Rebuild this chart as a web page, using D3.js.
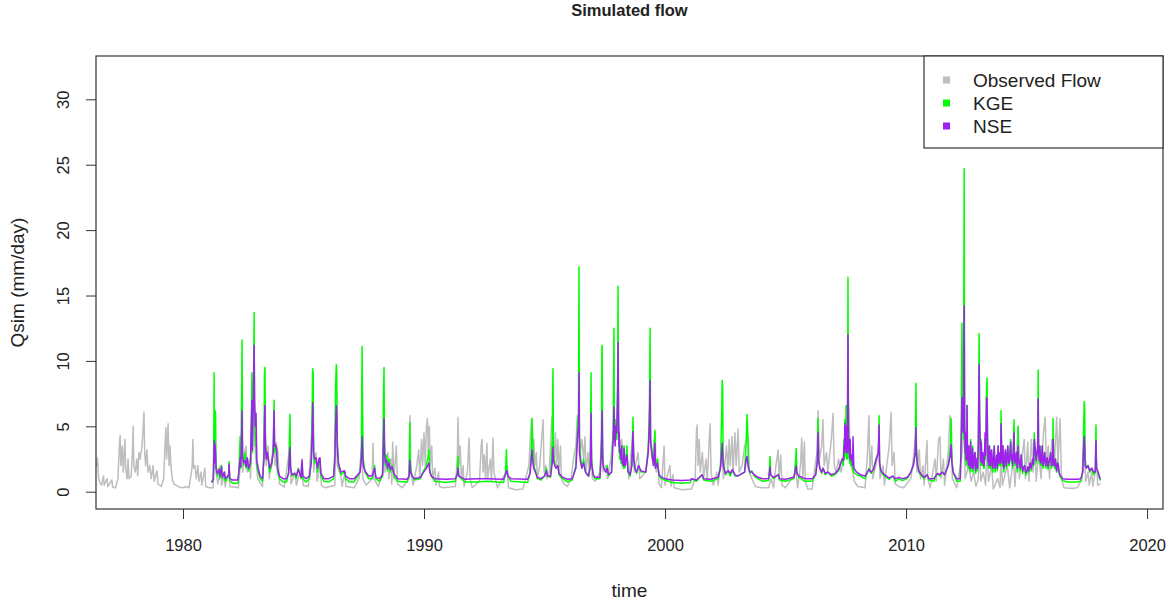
<!DOCTYPE html>
<html><head><meta charset="utf-8">
<script src="https://cdn.jsdelivr.net/npm/d3@7"></script>
<style>
body{margin:0;background:#fff}
text{font-family:"Liberation Sans",Arial,sans-serif;fill:#222}
</style>
</head><body>
<svg id="chart" width="1168" height="602"></svg>
<script>
// ---------- DATA ----------
const xTicks = [1980, 1990, 2000, 2010, 2020];
const yTicks = [0, 5, 10, 15, 20, 25, 30];
const legendLabels = ["Observed Flow", "KGE", "NSE"];
const chartTitle = "Simulated flow";
const xTitle = "time";
const yTitle = "Qsim (mm/day)";

// Observed flow (decimal year, mm/day)
const obsDates = [
  1976.42,1976.45,1976.50,1976.55,1976.62,1976.70,1976.73,1976.85,1976.88,
  1977.05,1977.08,1977.20,1977.30,1977.36,1977.39,1977.42,1977.48,1977.52,1977.59,1977.62,1977.68,1977.72,1977.76,1977.85,1977.90,1977.93,1977.96,
  1978.02,1978.08,1978.12,1978.17,1978.22,1978.30,1978.35,1978.38,1978.41,1978.45,1978.50,1978.55,1978.62,1978.68,1978.76,1978.80,1978.92,1978.96,
  1979.10,1979.20,1979.25,1979.29,1979.32,1979.36,1979.38,1979.42,1979.46,1979.50,1979.55,1979.62,1979.71,1979.85,
  1980.00,1980.15,1980.25,1980.35,1980.38,1980.41,1980.44,1980.50,1980.55,1980.62,1980.66,1980.75,1980.78,1980.91,1980.94,
  1981.10,1981.25,1981.29,1981.32,1981.45,1981.55,1981.60,1981.70,1981.75,1981.90,1981.95,
  1982.30,1982.40,1982.45,1982.48,1982.55,1982.62,1982.66,1982.75,1982.80,1982.86,1982.95,
  1983.00,1983.10,1983.30,1983.40,1983.45,1983.53,1983.58,1983.78,1983.82,1983.86,1983.94,
  1984.00,1984.20,1984.44,1984.48,1984.65,1984.70,1984.90,1984.94,1984.98,
  1985.20,1985.38,1985.42,1985.52,1985.56,1985.70,1985.74,1985.90,
  1986.30,1986.36,1986.40,1986.55,1986.60,1986.72,1986.76,
  1987.10,1987.30,1987.43,1987.46,1987.60,1987.85,1987.88,1987.92,
  1988.10,1988.30,1988.34,1988.38,1988.50,1988.54,1988.62,1988.66,1988.70,1988.75,1988.85,1988.90,
  1989.10,1989.38,1989.42,1989.45,1989.55,1989.70,1989.78,1989.82,1989.90,1989.94,
  1990.00,1990.05,1990.10,1990.14,1990.18,1990.22,1990.26,1990.32,1990.36,1990.45,1990.50,1990.60,1990.64,1990.80,
  1991.30,1991.38,1991.41,1991.45,1991.50,1991.55,1991.62,1991.66,1991.80,1991.87,1991.91,
  1992.00,1992.30,1992.37,1992.41,1992.45,1992.50,1992.55,1992.61,1992.64,1992.75,1992.80,1992.86,1992.90,1992.96,
  1993.05,1993.40,1993.44,1993.50,1993.80,
  1994.10,1994.35,1994.42,1994.46,1994.50,1994.55,1994.60,1994.66,1994.70,1994.80,1994.94,1994.98,
  1995.05,1995.10,1995.20,1995.30,1995.35,1995.40,1995.45,1995.50,1995.55,1995.60,1995.66,1995.70,1995.80,1995.95,
  1996.10,1996.20,1996.30,1996.36,1996.43,1996.48,1996.55,1996.62,1996.68,1996.72,1996.80,1996.86,1996.93,1996.98,
  1997.10,1997.30,1997.39,1997.43,1997.55,1997.62,1997.75,1997.88,1997.95,
  1998.05,1998.12,1998.20,1998.30,1998.42,1998.50,1998.67,1998.72,1998.88,1998.95,
  1999.20,1999.38,1999.45,1999.59,1999.63,1999.70,1999.75,1999.85,1999.96,
  2000.00,2000.20,2000.25,2000.33,2000.38,2000.70,
  2001.10,2001.25,2001.30,2001.33,2001.37,2001.42,2001.46,2001.55,2001.60,2001.70,2001.75,2001.82,2001.87,2001.91,
  2002.00,2002.15,2002.20,2002.37,2002.42,2002.55,2002.60,2002.66,2002.70,2002.78,2002.82,2002.90,2002.95,
  2003.03,2003.08,2003.20,2003.30,2003.40,2003.45,2003.50,2003.60,2003.75,
  2004.00,2004.30,2004.40,2004.50,2004.60,2004.69,2004.73,2004.80,2004.85,
  2005.00,2005.44,2005.50,2005.62,2005.67,2005.72,2005.78,2005.82,2005.92,
  2006.10,2006.30,2006.35,2006.40,2006.50,2006.55,2006.60,2006.70,2006.75,2006.90,2006.97,
  2007.02,2007.10,2007.20,2007.30,2007.45,2007.55,2007.62,2007.68,2007.75,2007.85,
  2008.00,2008.30,2008.40,2008.46,2008.50,2008.58,2008.62,2008.80,2008.88,2008.92,
  2009.05,2009.10,2009.30,2009.38,2009.42,2009.50,2009.55,2009.70,2009.90,
  2010.20,2010.30,2010.41,2010.45,2010.55,2010.60,2010.70,2010.75,2010.87,2010.90,
  2011.00,2011.20,2011.25,2011.35,2011.41,2011.45,2011.55,2011.60,2011.75,2011.82,2011.87,2011.92,
  2012.10,2012.30,2012.41,2012.45,2012.60,2012.70,2012.80,2012.90,
  2013.00,2013.03,2013.10,2013.20,2013.30,2013.36,2013.42,2013.55,2013.62,2013.80,2013.90,2013.94,
  2014.00,2014.20,2014.30,2014.45,2014.52,2014.65,2014.70,2014.80,2014.90,2014.95,
  2015.05,2015.10,2015.20,2015.27,2015.35,2015.40,2015.50,2015.60,2015.70,2015.77,2015.82,2015.90,2015.95,
  2016.05,2016.15,2016.25,2016.30,2016.39,2016.45,2016.55,2016.90,
  2017.10,2017.30,2017.35,2017.39,2017.45,2017.55,2017.60,2017.70,2017.75,2017.85,2017.90,2017.95,
  2018.05
];
const obsFlow = [
  2.0,2.6,1.0,0.7,0.5,1.2,0.5,1.0,0.4,
  0.9,0.35,0.3,1.0,3.5,4.3,2.0,3.5,1.5,4.0,1.8,1.0,2.5,1.0,1.2,3.0,5.0,2.0,
  1.5,2.5,1.2,3.0,2.5,3.5,5.0,6.1,3.0,2.0,3.2,1.5,2.0,1.0,2.0,0.8,1.6,0.6,
  0.4,1.0,3.5,4.9,2.5,4.0,5.2,2.0,3.5,2.0,1.0,0.6,0.5,0.35,
  0.3,0.4,0.3,1.5,2.0,4.0,1.8,2.0,1.0,2.0,0.8,1.5,0.5,1.8,0.4,
  0.3,0.3,4.0,2.0,0.6,2.0,0.5,1.2,0.4,1.5,0.4,
  0.3,2.5,5.0,1.5,3.0,3.5,1.5,2.5,1.0,4.5,7.0,
  3.0,1.0,0.4,5.5,2.0,3.5,1.0,4.0,2.0,3.8,3.0,
  0.6,0.35,3.5,0.6,1.5,0.5,1.8,2.5,0.5,
  0.4,5.5,1.5,3.0,0.8,2.0,0.5,0.3,
  0.5,6.0,2.0,1.2,0.4,1.5,0.4,
  0.3,1.0,4.0,1.0,0.5,1.0,3.7,1.0,
  0.4,1.5,4.5,1.5,3.0,1.0,2.5,0.6,3.8,1.0,3.5,0.6,
  0.3,1.0,5.8,1.5,0.5,2.0,3.2,1.0,4.0,2.0,
  4.5,2.0,5.0,5.6,3.0,5.0,2.0,3.5,1.0,1.8,0.5,1.5,0.4,0.3,
  0.4,2.5,5.7,2.0,3.5,1.0,2.0,0.4,1.5,4.1,1.0,
  0.3,0.8,3.5,4.0,1.5,2.8,1.0,3.7,1.0,2.5,0.8,4.1,1.5,1.0,
  0.3,1.5,2.0,0.3,0.15,
  0.2,2.0,4.5,5.6,3.0,4.0,2.0,3.0,1.0,2.0,5.5,1.5,
  2.0,1.0,1.5,5.7,4.0,2.5,4.5,2.0,4.0,1.5,3.5,1.0,0.6,0.4,
  1.0,2.5,3.5,5.8,5.0,3.0,4.0,2.5,4.2,1.5,3.0,1.2,4.0,1.0,
  0.8,1.5,5.0,1.5,2.0,1.0,2.5,5.0,4.0,
  5.5,3.5,4.0,2.5,3.0,1.0,4.5,1.5,3.0,1.0,
  1.5,5.0,2.5,4.5,1.5,2.5,0.6,0.3,3.5,
  0.5,2.0,0.4,1.3,0.3,0.15,
  0.2,1.0,4.5,5.1,2.0,4.0,1.5,3.0,1.0,2.5,0.8,3.5,5.2,1.5,
  0.5,1.5,0.5,3.0,1.0,3.5,1.5,4.0,2.0,4.2,1.5,4.5,2.0,
  4.8,1.5,2.0,3.5,4.0,4.2,1.5,1.0,0.4,
  0.3,0.3,1.0,0.3,2.0,3.2,1.0,2.8,0.5,
  0.3,1.5,0.3,2.0,4.1,1.0,3.8,0.8,0.2,
  0.2,3.0,6.2,2.5,3.5,5.5,2.0,3.0,1.5,4.0,6.0,
  2.0,1.5,2.5,1.5,3.0,5.0,6.5,3.0,2.0,0.8,
  0.4,0.3,3.0,5.8,1.5,3.5,1.0,2.5,4.0,1.0,
  2.0,0.5,3.5,6.1,2.0,3.0,0.6,0.4,0.3,
  1.0,2.5,4.5,1.5,3.2,1.0,2.0,0.5,3.9,1.0,
  0.3,2.5,0.8,4.0,4.2,1.0,2.5,0.5,3.0,5.8,4.0,1.0,
  0.3,2.5,5.0,1.0,2.0,0.8,1.5,0.4,
  1.0,5.0,0.8,1.5,0.5,3.5,0.8,2.0,0.2,1.0,0.3,3.0,
  0.5,2.0,0.3,2.5,0.4,5.0,1.0,2.5,4.0,1.0,
  3.8,0.8,4.0,1.5,3.5,0.8,3.0,1.0,4.5,5.7,2.0,3.5,1.0,
  4.0,2.0,5.7,2.0,5.6,1.0,0.3,0.25,
  0.3,1.0,3.0,4.0,0.8,1.5,0.5,1.5,0.4,1.5,2.5,0.5,
  0.6
];

// Simulated flows (shared decimal-year dates)
const simDates = [
  1981.20,1981.26,1981.28,1981.29,1981.30,1981.33,1981.35,1981.37,1981.42,1981.50,1981.53,1981.60,1981.63,1981.72,1981.75,1981.90,1981.91,1981.94,
  1982.05,1982.28,1982.33,1982.37,1982.40,1982.44,1982.45,1982.47,1982.52,1982.58,1982.62,1982.66,1982.72,1982.80,1982.84,1982.86,1982.88,1982.93,1982.95,1982.97,
  1983.00,1983.03,1983.06,1983.12,1983.20,1983.30,1983.36,1983.38,1983.40,1983.42,1983.46,1983.50,1983.53,1983.60,1983.68,1983.74,1983.78,1983.80,1983.84,1983.88,1983.92,
  1984.00,1984.15,1984.30,1984.38,1984.42,1984.44,1984.46,1984.52,1984.62,1984.70,1984.78,1984.90,1984.94,1984.97,
  1985.10,1985.25,1985.32,1985.36,1985.38,1985.40,1985.42,1985.46,1985.52,1985.58,1985.64,1985.68,1985.72,1985.85,
  1986.05,1986.25,1986.30,1986.33,1986.36,1986.38,1986.40,1986.45,1986.55,1986.70,1986.75,1986.90,
  1987.10,1987.25,1987.35,1987.40,1987.43,1987.45,1987.48,1987.55,1987.70,1987.85,1987.95,
  1988.00,1988.15,1988.28,1988.32,1988.34,1988.36,1988.40,1988.45,1988.48,1988.55,1988.60,1988.68,1988.75,1988.90,
  1989.30,1989.38,1989.41,1989.43,1989.50,1989.60,1989.85,1989.95,
  1990.10,1990.15,1990.20,1990.24,1990.30,1990.45,1990.90,
  1991.30,1991.38,1991.41,1991.44,1991.55,1991.70,
  1992.20,1992.60,
  1993.30,1993.38,1993.42,1993.44,1993.48,1993.60,
  1994.30,1994.40,1994.45,1994.48,1994.50,1994.55,1994.62,1994.70,1994.85,
  1995.00,1995.08,1995.12,1995.25,1995.32,1995.35,1995.37,1995.42,1995.48,1995.55,1995.60,1995.75,1995.95,
  1996.15,1996.30,1996.38,1996.41,1996.43,1996.45,1996.50,1996.55,1996.62,1996.70,1996.82,1996.90,1996.93,1996.95,
  1997.02,1997.10,1997.30,1997.36,1997.38,1997.39,1997.41,1997.45,1997.55,1997.60,1997.65,1997.78,1997.85,1997.88,1997.90,1997.93,1997.96,
  1998.00,1998.03,1998.05,1998.07,1998.09,1998.10,1998.12,1998.15,1998.17,1998.20,1998.22,1998.25,1998.27,1998.30,1998.33,1998.35,1998.38,1998.42,1998.46,1998.55,1998.62,1998.67,1998.70,1998.75,1998.82,1998.90,
  1999.00,1999.20,1999.30,1999.35,1999.38,1999.40,1999.45,1999.52,1999.58,1999.60,1999.68,1999.75,1999.85,
  2000.00,2000.30,2000.70,
  2001.05,2001.10,2001.30,2001.54,2001.60,2001.90,
  2002.20,2002.30,2002.35,2002.37,2002.39,2002.41,2002.50,2002.62,2002.70,2002.80,2002.90,
  2003.00,2003.30,2003.37,2003.40,2003.43,2003.46,2003.52,2003.60,2003.70,2003.85,
  2004.05,2004.30,2004.36,2004.38,2004.50,2004.70,2004.75,
  2005.00,2005.35,2005.42,2005.44,2005.47,2005.55,2005.80,
  2006.10,2006.25,2006.32,2006.35,2006.37,2006.42,2006.50,2006.55,2006.65,2006.75,2006.90,
  2007.05,2007.20,2007.35,2007.40,2007.42,2007.44,2007.46,2007.48,2007.50,2007.51,2007.53,2007.54,2007.56,2007.57,2007.59,2007.61,2007.63,2007.64,2007.66,2007.68,2007.70,2007.72,2007.75,2007.78,2007.80,2007.83,2007.95,
  2008.10,2008.30,2008.40,2008.46,2008.55,2008.65,2008.75,2008.85,2008.88,2008.90,2008.96,
  2009.10,2009.30,2009.45,2009.55,2009.70,2009.85,
  2010.05,2010.20,2010.30,2010.38,2010.41,2010.43,2010.48,2010.55,2010.65,2010.75,2010.87,2010.95,
  2011.15,2011.30,2011.40,2011.50,2011.60,2011.75,2011.84,2011.87,2011.90,2011.95,
  2012.10,2012.25,2012.29,2012.32,2012.34,2012.38,2012.41,2012.43,2012.45,2012.47,2012.49,2012.50,2012.52,2012.53,2012.55,2012.56,2012.58,2012.60,2012.62,2012.64,2012.66,2012.68,2012.70,2012.72,2012.74,2012.76,2012.78,2012.80,2012.83,2012.86,2012.88,2012.90,2012.93,2012.95,2012.97,
  2013.00,2013.03,2013.05,2013.08,2013.10,2013.12,2013.14,2013.16,2013.18,2013.20,2013.22,2013.24,2013.26,2013.28,2013.30,2013.32,2013.34,2013.36,2013.38,2013.40,2013.42,2013.44,2013.46,2013.48,2013.50,2013.52,2013.55,2013.58,2013.60,2013.63,2013.66,2013.68,2013.70,2013.73,2013.76,2013.79,2013.82,2013.84,2013.86,2013.88,2013.90,2013.92,2013.94,2013.97,
  2014.00,2014.02,2014.04,2014.06,2014.09,2014.12,2014.14,2014.16,2014.19,2014.22,2014.25,2014.28,2014.31,2014.34,2014.37,2014.40,2014.42,2014.45,2014.48,2014.50,2014.52,2014.55,2014.58,2014.60,2014.62,2014.65,2014.67,2014.70,2014.74,2014.78,2014.81,2014.84,2014.88,2014.92,2014.96,
  2015.00,2015.05,2015.10,2015.15,2015.20,2015.25,2015.29,2015.32,2015.36,2015.40,2015.43,2015.46,2015.48,2015.50,2015.53,2015.55,2015.58,2015.60,2015.63,2015.65,2015.68,2015.70,2015.73,2015.75,2015.78,2015.80,2015.83,2015.86,2015.89,2015.92,2015.96,
  2016.00,2016.03,2016.05,2016.08,2016.10,2016.13,2016.16,2016.20,2016.23,2016.25,2016.29,2016.32,2016.35,2016.38,2016.50,2016.70,
  2017.10,2017.25,2017.33,2017.37,2017.39,2017.41,2017.43,2017.48,2017.55,2017.62,2017.70,2017.78,2017.85,2017.88,2017.90,2017.95,
  2018.00,2018.05
];
const kgeFlow = [
  0.75,0.9,5.0,9.1,3.5,6.2,6.0,2.2,1.2,1.8,1.0,2.0,1.0,1.5,0.8,1.2,2.3,0.9,
  0.65,0.65,2.0,4.2,1.8,9.0,11.6,3.0,2.0,3.0,1.8,2.5,1.6,2.0,6.0,9.1,3.0,9.0,13.7,6.0,
  3.5,4.5,2.0,1.5,1.0,0.8,3.0,9.0,9.5,4.0,2.5,3.0,2.5,1.5,2.0,3.0,7.0,3.0,3.5,3.2,1.5,
  1.0,0.75,0.75,1.5,4.5,5.9,2.0,1.2,1.4,1.0,1.8,1.0,2.2,1.0,
  0.75,1.0,2.5,6.5,9.4,9.0,3.0,2.2,2.5,1.5,2.3,2.5,1.2,0.8,
  0.75,1.0,3.0,8.0,9.7,9.0,4.0,2.0,1.3,1.5,1.0,0.75,
  0.75,1.2,1.5,3.0,11.1,6.2,2.5,1.5,1.0,1.0,2.0,
  1.0,0.8,1.2,7.5,9.5,4.0,2.0,2.8,1.6,2.5,1.5,2.0,1.2,0.8,
  0.75,1.2,5.3,2.2,1.2,0.9,1.0,1.5,
  2.0,2.5,3.2,1.6,1.2,0.8,0.7,
  0.8,1.5,2.7,1.2,1.0,0.75,
  0.75,0.8,
  0.7,1.5,3.2,2.0,1.2,0.8,
  0.7,1.5,3.0,5.6,4.5,2.0,1.6,1.0,0.9,
  1.2,1.8,1.2,1.1,4.0,9.4,3.0,2.2,1.8,2.0,1.3,1.0,0.75,
  0.9,2.0,5.5,6.0,17.2,4.0,2.5,1.8,2.5,1.5,1.2,2.0,9.1,2.5,
  1.2,1.0,1.0,4.0,11.0,11.2,3.0,1.8,1.5,2.0,1.2,1.5,5.0,12.5,5.0,4.0,5.5,
  4.0,8.0,15.7,5.0,3.0,4.0,2.5,3.0,2.2,3.5,2.0,2.5,1.8,3.5,1.8,2.0,2.5,3.5,1.5,1.2,2.0,5.7,2.5,1.8,1.4,2.0,
  1.5,1.5,3.0,6.5,12.5,4.0,3.0,2.0,4.7,1.8,2.5,1.2,1.0,
  0.9,0.7,0.65,
  0.7,1.0,0.8,1.3,0.9,0.8,
  1.0,2.0,6.0,8.5,8.0,2.5,1.3,1.6,1.2,1.6,1.2,
  1.2,1.5,4.0,5.9,4.5,2.0,1.4,1.6,1.2,1.0,
  0.8,0.85,2.7,1.3,1.0,1.3,0.9,
  0.8,1.0,2.5,3.3,1.5,1.1,0.8,
  0.8,1.3,2.5,5.6,2.5,1.8,1.4,1.8,1.3,1.5,1.2,
  1.3,1.6,2.5,2.0,4.0,2.5,5.5,2.8,3.0,6.6,2.5,3.5,2.5,5.0,16.4,5.0,2.5,3.0,2.2,4.0,2.0,2.0,2.5,1.6,3.5,1.5,1.3,
  1.2,1.0,1.5,1.8,1.4,1.7,2.5,3.0,5.8,2.2,1.5,
  1.2,0.95,1.2,0.8,1.0,0.85,
  1.0,1.5,2.0,3.0,8.3,3.5,2.0,1.4,1.2,1.0,1.3,0.9,
  0.8,1.4,1.2,1.5,1.3,2.0,3.5,5.6,2.5,1.5,
  0.8,0.8,5.0,12.9,6.0,4.0,24.7,5.5,2.5,3.0,2.0,4.5,2.5,6.6,2.2,3.0,1.8,3.5,2.0,2.0,1.5,4.0,1.8,2.5,1.6,3.5,1.5,1.8,2.8,3.0,1.4,1.5,2.2,2.5,1.6,
  4.0,12.1,6.0,3.0,2.0,4.0,2.2,2.0,2.8,2.5,1.8,1.8,3.0,4.0,2.5,5.0,8.0,8.7,4.0,2.0,2.5,1.8,3.5,2.0,1.8,2.8,3.0,1.7,1.5,2.5,3.5,1.8,1.5,2.2,2.5,1.6,3.5,2.0,2.0,2.8,3.0,2.0,6.2,2.5,
  2.0,3.5,1.8,1.5,2.5,3.0,2.0,1.8,2.6,3.5,2.0,2.0,2.8,4.0,2.2,2.5,1.8,3.5,5.5,2.2,2.0,2.6,3.0,1.8,1.5,5.0,2.5,2.0,1.6,2.8,1.8,1.4,1.8,2.0,1.3,
  1.3,1.8,1.5,2.2,1.6,2.5,2.0,4.5,3.0,2.2,2.8,3.5,9.3,3.0,2.2,3.5,2.0,2.0,2.8,3.5,1.8,2.0,2.6,3.0,2.0,1.8,2.4,2.5,1.7,2.0,2.4,
  3.0,1.8,2.0,2.5,5.6,2.0,1.8,2.5,1.6,1.5,2.2,2.0,1.4,1.2,0.85,0.75,
  0.75,0.8,1.5,5.0,6.9,6.5,2.5,1.8,2.0,1.5,1.8,1.3,1.5,5.1,1.8,1.5,
  1.2,0.9
];
const nseFlow = [
  0.75,1.0,2.8,3.9,2.2,3.6,3.0,1.8,1.4,1.7,1.2,1.9,1.1,1.5,1.0,1.3,2.1,1.0,
  0.9,0.9,1.8,2.6,1.9,5.0,6.2,2.6,2.2,2.4,1.9,2.6,1.8,2.2,5.5,7.0,3.2,8.5,11.2,7.0,
  5.0,6.0,2.4,1.8,1.2,1.0,2.5,5.5,6.6,3.5,2.5,3.0,2.6,1.8,2.2,3.0,6.2,3.5,3.6,3.3,1.8,
  1.2,1.0,1.0,1.4,2.8,3.4,1.8,1.3,1.4,1.2,1.7,1.1,2.4,1.2,
  1.0,1.2,2.2,4.5,6.8,5.0,3.0,2.5,2.6,1.8,2.5,2.6,1.4,1.0,
  1.0,1.2,2.5,5.0,6.6,6.0,3.5,2.2,1.5,1.6,1.2,1.0,
  1.0,1.3,1.5,2.5,4.2,3.0,2.0,1.6,1.2,1.2,1.8,
  1.1,1.0,1.3,4.0,5.6,3.0,2.2,2.4,1.8,2.2,1.7,1.9,1.4,1.0,
  0.95,1.2,2.4,1.6,1.2,1.0,1.1,1.4,
  1.8,2.0,2.2,1.5,1.2,1.0,0.95,
  1.0,1.3,1.8,1.2,1.1,0.95,
  1.0,1.0,
  0.95,1.3,1.6,1.6,1.2,1.0,
  0.95,1.4,2.5,3.2,2.5,1.8,1.5,1.1,1.0,
  1.2,1.6,1.2,1.2,2.2,3.4,2.4,2.0,1.8,2.0,1.4,1.1,0.95,
  1.0,1.8,4.5,5.0,9.1,3.0,2.2,1.8,2.2,1.5,1.2,1.9,6.0,2.2,
  1.3,1.1,1.1,3.0,5.5,6.2,2.6,1.8,1.5,1.8,1.3,1.5,4.0,6.5,4.5,3.5,5.0,
  4.5,7.5,11.4,6.0,3.5,4.5,3.0,3.2,2.5,3.5,2.2,2.5,2.0,3.3,2.0,2.0,2.5,2.8,1.6,1.3,2.0,4.6,2.5,1.8,1.5,2.0,
  1.6,1.5,3.0,5.0,8.5,3.8,3.0,2.0,3.7,1.8,2.2,1.3,1.1,
  1.0,0.9,0.85,
  0.9,1.0,0.9,1.3,1.0,0.95,
  1.1,1.8,3.0,3.7,3.0,2.0,1.4,1.6,1.4,1.7,1.3,
  1.2,1.5,2.5,2.7,2.2,1.8,1.5,1.5,1.3,1.1,
  1.0,1.0,1.9,1.3,1.1,1.3,1.0,
  0.95,1.1,1.8,2.0,1.4,1.2,1.0,
  1.0,1.3,2.3,4.5,2.5,1.8,1.5,1.8,1.4,1.5,1.3,
  1.4,1.7,2.5,2.4,3.5,3.0,5.2,3.2,3.5,5.0,3.0,3.5,3.0,5.5,12.0,4.5,3.0,3.5,2.6,4.0,2.4,2.5,2.8,2.0,4.2,1.8,1.5,
  1.3,1.2,1.5,1.7,1.5,1.7,2.4,3.0,5.1,2.2,1.6,
  1.3,1.05,1.2,1.0,1.1,1.0,
  1.1,1.5,2.0,3.0,4.9,2.8,2.0,1.5,1.3,1.1,1.3,1.0,
  1.0,1.4,1.3,1.5,1.3,2.0,2.8,3.6,2.3,1.5,
  1.0,1.0,4.0,7.2,5.0,4.5,14.2,5.5,3.0,3.5,2.4,4.5,2.8,6.6,2.5,3.3,2.0,3.5,2.2,2.2,1.8,3.8,2.0,2.6,1.8,3.3,1.8,2.0,2.8,3.0,1.6,1.8,2.3,2.6,1.8,
  4.0,9.7,6.0,3.0,2.3,3.8,2.4,2.2,3.0,2.8,2.0,2.0,3.2,4.5,2.8,4.8,7.2,7.0,4.0,2.3,2.8,2.0,3.5,2.2,2.0,3.0,3.2,1.9,1.8,2.6,3.5,2.0,1.8,2.4,2.8,1.8,3.5,2.2,2.2,2.8,3.0,2.2,5.2,2.8,
  2.2,3.5,2.0,1.8,2.6,3.2,2.2,2.0,2.8,3.5,2.2,2.2,3.0,3.8,2.4,2.8,2.0,3.2,4.5,2.4,2.2,2.7,3.0,2.0,1.8,3.5,2.6,2.2,1.8,2.8,2.0,1.6,1.9,2.0,1.5,
  1.5,1.9,1.6,2.2,1.8,2.5,2.1,4.0,3.2,2.4,2.9,3.5,7.1,3.0,2.4,3.5,2.2,2.2,2.9,3.5,2.0,2.2,2.7,3.0,2.2,2.0,2.5,2.6,1.9,2.2,2.5,
  3.0,2.0,2.0,2.6,4.0,2.0,2.0,2.5,1.8,1.6,2.2,2.0,1.5,1.3,1.0,0.95,
  0.95,1.0,1.5,3.5,4.2,3.5,2.0,1.8,2.0,1.6,1.8,1.5,1.5,3.9,1.8,1.6,
  1.3,1.0
];

const seriesColors = ["#BEBEBE", "#00FF00", "#A020F0"];

// ---------- CHART ----------
const svg = d3.select("#chart");
const plot = {left: 96, top: 56, right: 1163, bottom: 509};

const x = d3.scaleLinear().domain([1976.39, 2020.66]).range([plot.left, plot.right]);
const y = d3.scaleLinear().domain([-1.32, 33.31]).range([plot.bottom, plot.top]);

svg.append("rect").attr("width", 1168).attr("height", 602).attr("fill", "#fff");

svg.append("defs").append("clipPath").attr("id", "clip")
  .append("rect").attr("x", plot.left).attr("y", plot.top)
  .attr("width", plot.right - plot.left).attr("height", plot.bottom - plot.top);

const line = d3.line().x(d => x(d[0])).y(d => y(d[1]));
const obsData = obsDates.map((t, i) => [t, obsFlow[i]]);
const kgeData = simDates.map((t, i) => [t, kgeFlow[i]]);
const nseData = simDates.map((t, i) => [t, nseFlow[i]]);

const g = svg.append("g").attr("clip-path", "url(#clip)");
[[obsData, seriesColors[0]], [kgeData, seriesColors[1]], [nseData, seriesColors[2]]].forEach(([d, c]) => {
  g.append("path").datum(d).attr("d", line)
    .attr("fill", "none").attr("stroke", c).attr("stroke-width", 1.5)
    .attr("stroke-linejoin", "round").attr("stroke-linecap", "round");
});

// axes
const fontFam = '"Liberation Sans", Arial, sans-serif';
const xAxis = svg.append("g").attr("transform", `translate(0,${plot.bottom})`)
  .call(d3.axisBottom(x).tickValues(xTicks).tickFormat(d3.format("d")).tickSize(10).tickSizeOuter(0).tickPadding(20));
xAxis.select(".domain").remove();
xAxis.selectAll("line").attr("stroke", "#333");
xAxis.selectAll("text").attr("font-size", "16.5px").attr("fill", "#222").style("font-family", fontFam);

const yAxis = svg.append("g").attr("transform", `translate(${plot.left},0)`)
  .call(d3.axisLeft(y).tickValues(yTicks).tickSize(10).tickSizeOuter(0));
yAxis.select(".domain").remove();
yAxis.selectAll("line").attr("stroke", "#333");
yAxis.selectAll("text")
  .attr("x", null).attr("dy", "0.35em")
  .attr("transform", "translate(-33,0) rotate(-90)")
  .attr("text-anchor", "middle").attr("font-size", "16.5px").attr("fill", "#222").style("font-family", fontFam);

// plot box
svg.append("rect").attr("x", plot.left).attr("y", plot.top)
  .attr("width", plot.right - plot.left).attr("height", plot.bottom - plot.top)
  .attr("fill", "none").attr("stroke", "#333").attr("stroke-width", 1.2);

// titles
svg.append("text").attr("x", (plot.left + plot.right) / 2).attr("y", 16)
  .attr("text-anchor", "middle").attr("font-weight", "bold").attr("font-size", "16.5px").text(chartTitle);
svg.append("text").attr("x", (plot.left + plot.right) / 2).attr("y", 597)
  .attr("text-anchor", "middle").attr("font-size", "19px").text(xTitle);
svg.append("text").attr("transform", `translate(17,${(plot.top + plot.bottom) / 2}) rotate(-90)`)
  .attr("dy", "0.35em").attr("text-anchor", "middle").attr("font-size", "19px").text(yTitle);

// legend
const lg = svg.append("g");
lg.append("rect").attr("x", 924).attr("y", plot.top).attr("width", plot.right - 924).attr("height", 92)
  .attr("fill", "#fff").attr("stroke", "#333").attr("stroke-width", 1.2);
const rowY = [80, 103, 126];
legendLabels.forEach((lab, i) => {
  lg.append("rect").attr("x", 943).attr("y", rowY[i] - 3.5).attr("width", 7).attr("height", 7).attr("fill", seriesColors[i]);
  lg.append("text").attr("x", 973).attr("y", rowY[i]).attr("dy", "0.35em").attr("font-size", "19px").text(lab);
});
</script>
</body></html>
